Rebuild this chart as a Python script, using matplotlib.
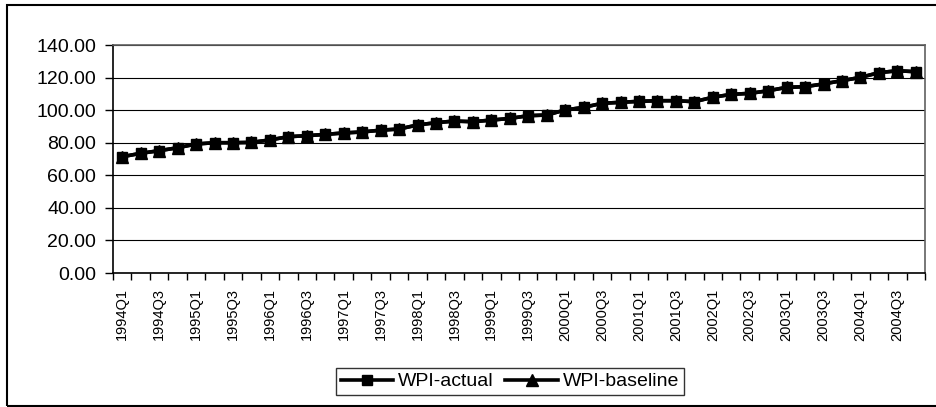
import numpy as np
import matplotlib
matplotlib.use("Agg")
import matplotlib.pyplot as plt
from matplotlib.patches import Rectangle

plt.rcParams['font.family'] = ['Liberation Sans', 'DejaVu Sans']

# quarterly WPI data, 1994Q1 - 2004Q4
years = list(range(1994, 2005))
quarters = [f"{y}Q{q}" for y in years for q in range(1, 5)]

wpi_actual = [71.4, 73.5, 75.1, 76.9, 79.2, 80.0, 80.0, 80.2,
              81.7, 83.7, 84.3, 85.1, 86.0, 86.6, 87.7, 88.4,
              90.9, 92.3, 93.3, 92.9, 93.9, 94.9, 96.6, 97.0,
              100.1, 101.7, 104.2, 104.8, 105.4, 105.8, 105.8, 105.2,
              107.9, 109.7, 110.3, 111.9, 114.0, 114.4, 116.1, 118.1,
              120.1, 123.0, 124.2, 123.6]
wpi_baseline = [71.4, 73.5, 75.1, 76.9, 79.2, 80.0, 80.0, 80.2,
                81.7, 83.7, 84.3, 85.1, 86.0, 86.6, 87.7, 88.4,
                90.9, 92.3, 93.3, 92.9, 93.9, 94.9, 96.6, 97.0,
                100.1, 101.7, 104.2, 104.8, 105.4, 105.8, 105.8, 105.2,
                107.9, 109.7, 110.3, 111.9, 114.0, 114.4, 116.1, 118.1,
                120.1, 123.0, 124.2, 123.6]
y_ticks = [0, 20, 40, 60, 80, 100, 120, 140]

fig = plt.figure(figsize=(9.36, 4.07), dpi=100)
ax = fig.add_axes([113 / 936, 1 - 273 / 407, (925 - 113) / 936, (273 - 45) / 407])

x = np.arange(len(quarters))
ax.plot(x, wpi_actual, color='black', linewidth=2.6, marker='s', markersize=7,
        label='WPI-actual', zorder=3)
ax.plot(x, wpi_baseline, color='black', linewidth=2.6, marker='^', markersize=8.5,
        label='WPI-baseline', zorder=4)

ax.set_xlim(-0.5, len(quarters) - 0.5)
ax.set_ylim(0, 140)
ax.set_yticks(y_ticks)
ax.set_yticklabels([f"{v:.2f}" for v in y_ticks], fontsize=14)
ax.yaxis.grid(True, color='black', linewidth=0.8)
ax.set_axisbelow(True)

# labels on every second category, tick marks on the category borders
ax.set_xticks(x[::2])
ax.set_xticklabels(quarters[::2], rotation=90, fontsize=10.5)
ax.set_xticks(np.arange(len(quarters) + 1) - 0.5, minor=True)
ax.tick_params(axis='x', which='major', length=0, pad=11)
ax.tick_params(axis='x', which='minor', length=5, width=1, direction='out')
ax.tick_params(axis='y', length=6, width=1, direction='out', pad=6)

for side in ['left', 'bottom']:
    ax.spines[side].set_color('black')
    ax.spines[side].set_linewidth(1.2)
for side in ['top', 'right']:
    ax.spines[side].set_color('#606060')
    ax.spines[side].set_linewidth(1.2)

leg = fig.legend(loc='center', bbox_to_anchor=(510 / 936, 1 - 381.5 / 407), ncol=2,
                 fontsize=14, frameon=True, fancybox=False, edgecolor='black',
                 handlelength=2.7, handletextpad=0.25, columnspacing=0.6,
                 borderpad=0.25, borderaxespad=0)
leg.get_frame().set_linewidth(1)

# chart area border (right side runs off the image)
fig.patches.append(Rectangle((7 / 936, 1 / 407), 1.0, 401 / 407, transform=fig.transFigure,
                             fill=False, edgecolor='black', linewidth=1.5))

fig.savefig('out.png', dpi=100)
